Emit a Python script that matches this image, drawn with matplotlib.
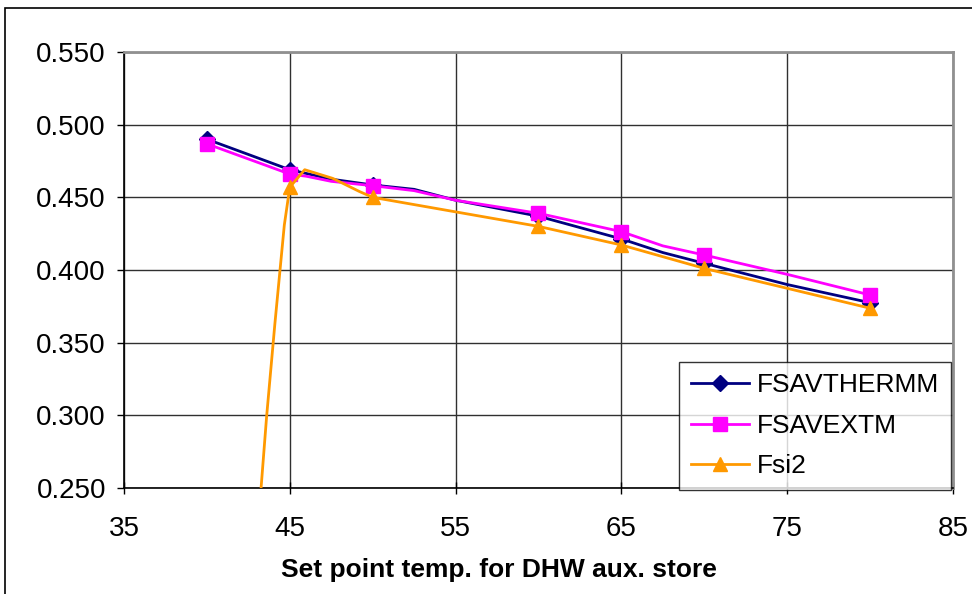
import matplotlib
matplotlib.use("Agg")
import matplotlib.pyplot as plt
from matplotlib.patches import Rectangle
from matplotlib.ticker import FormatStrFormatter

plt.rcParams['font.family'] = ['Liberation Sans', 'DejaVu Sans']

# Data
x_therm = [40, 45, 47.5, 50, 52.5, 55, 60, 65, 67.5, 70, 75, 80]
y_therm = [0.490, 0.469, 0.4625, 0.4585, 0.4555, 0.448, 0.437, 0.4214, 0.412, 0.4046, 0.390, 0.3775]
mark_therm = [0, 1, 3, 6, 7, 9, 11]

x_ext = [40, 45, 46, 47.5, 50, 52.5, 55, 60, 65, 67.5, 70, 75, 80]
y_ext = [0.4868, 0.466, 0.4645, 0.461, 0.458, 0.4546, 0.448, 0.439, 0.4264, 0.4166, 0.4103, 0.397, 0.3828]
mark_ext = [0, 1, 4, 7, 8, 10, 12]

x_fsi = [42.5, 43.24, 43.6, 44.1, 44.67, 45, 45.9, 47.6, 49.2, 50, 55, 60, 65, 70, 75, 80]
y_fsi = [0.15, 0.246, 0.299, 0.363, 0.431, 0.457, 0.469, 0.463, 0.454, 0.450, 0.440, 0.430, 0.4172, 0.4011, 0.3874, 0.3737]
mark_fsi = [5, 9, 11, 12, 13, 15]

xticks = [35, 45, 55, 65, 75, 85]
yticks = [0.25, 0.30, 0.35, 0.40, 0.45, 0.50, 0.55]

W, H = 972, 594
fig = plt.figure(figsize=(W / 100, H / 100), dpi=100)
ax = fig.add_axes([124 / W, 1 - 488 / H, (953 - 124) / W, (488 - 52) / H])

ax.plot(x_therm, y_therm, color='#000080', lw=2, marker='D', markersize=8.5,
        markevery=mark_therm, label='FSAVTHERMM', zorder=3)
ax.plot(x_ext, y_ext, color='#FF00FF', lw=2, marker='s', markersize=9.5,
        markevery=mark_ext, label='FSAVEXTM', zorder=4)
ax.plot(x_fsi, y_fsi, color='#FF9900', lw=2, marker='^', markersize=10.5,
        markevery=mark_fsi, label='Fsi2', zorder=5)

ax.set_xlim(35, 85)
ax.set_ylim(0.25, 0.55)
ax.set_xticks(xticks)
ax.set_yticks(yticks)
ax.yaxis.set_major_formatter(FormatStrFormatter('%.3f'))
ax.tick_params(axis='both', labelsize=20, length=5, width=1, color='black')
ax.tick_params(axis='x', direction='inout', pad=16, length=8)
ax.tick_params(axis='y', direction='out', pad=8)

ax.grid(True, color='#303030', lw=1)
ax.set_axisbelow(True)
for s in ['left', 'bottom']:
    ax.spines[s].set_color('black')
    ax.spines[s].set_linewidth(1.2)
for s in ['top', 'right']:
    ax.spines[s].set_color('#909090')
    ax.spines[s].set_linewidth(2)

ax.set_xlabel('Set point temp. for DHW aux. store', fontsize=19,
              fontweight='bold')
ax.xaxis.set_label_coords((499 - 124) / 829, (488 - 558) / 436)

leg = ax.legend(loc='lower right', bbox_to_anchor=(951 / W, 1 - 490 / H),
                bbox_transform=fig.transFigure, fontsize=19, frameon=True,
                fancybox=False, shadow=False, borderaxespad=0,
                handlelength=2.2, handletextpad=0.3, labelspacing=0.62,
                borderpad=0.45)
leg.get_frame().set_edgecolor('black')
leg.get_frame().set_linewidth(1)
leg.set_zorder(10)

# outer chart border (cropped at right and bottom)
fig.patches.append(Rectangle((5 / W, -0.1), 1.2, 1 - 8 / H + 0.1,
                             transform=fig.transFigure, fill=False,
                             edgecolor='black', lw=1.2))

fig.savefig('out.png', dpi=100)
